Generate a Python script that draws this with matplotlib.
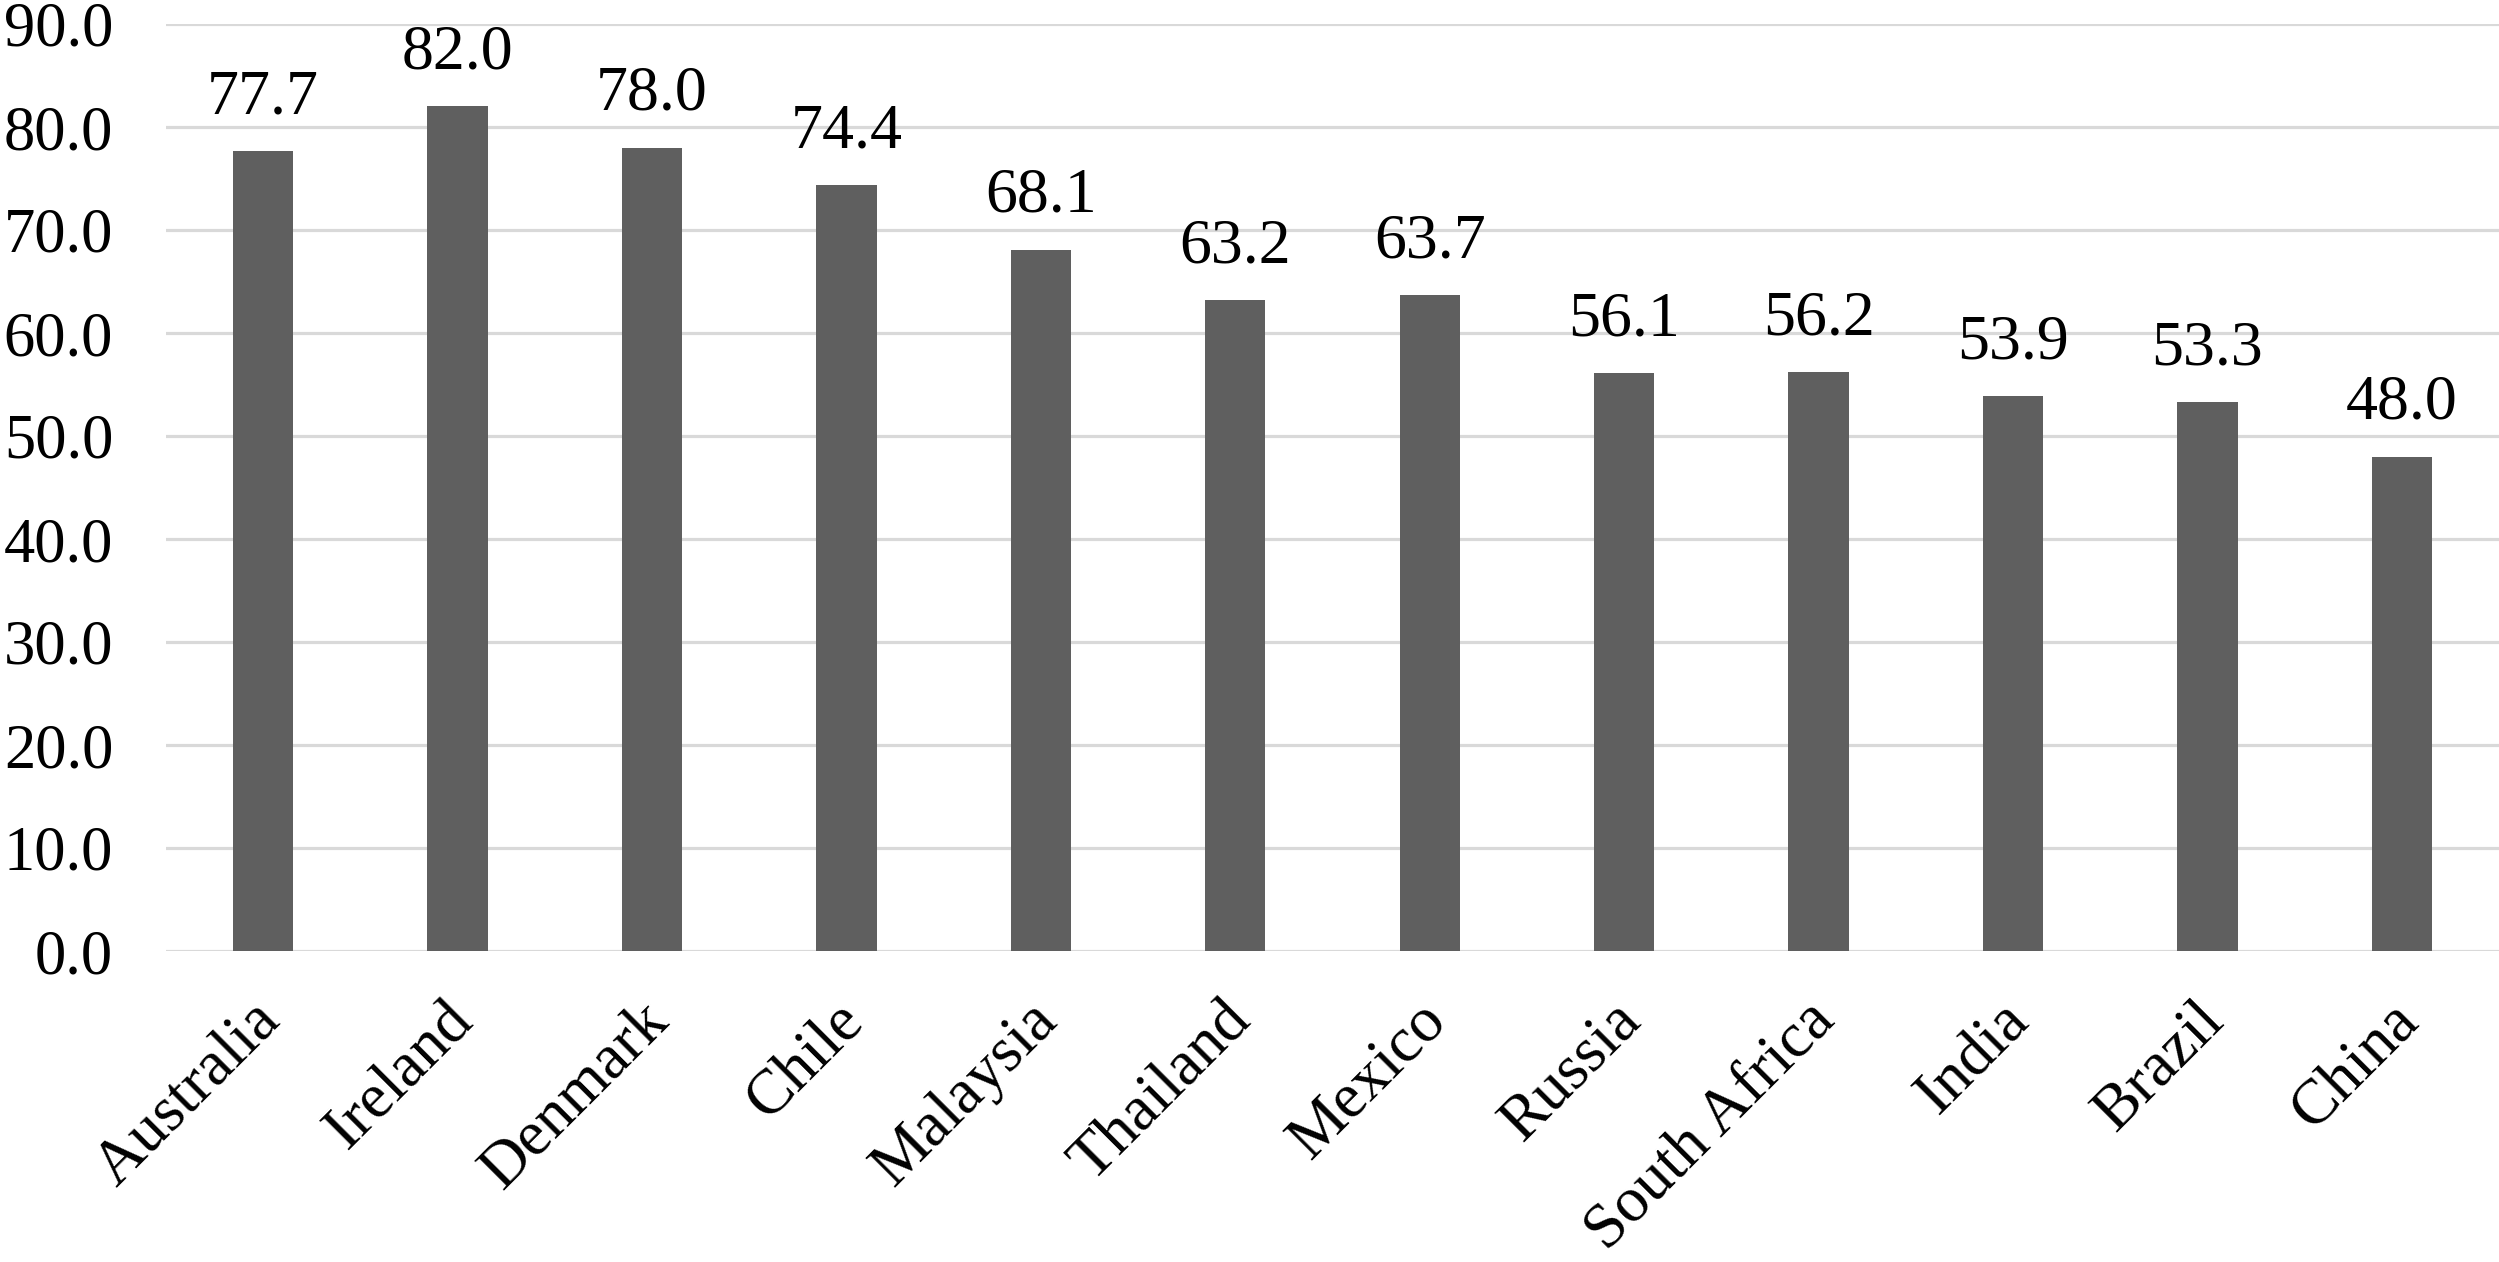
import matplotlib.pyplot as plt
import matplotlib.transforms as mtransforms

countries = ["Australia", "Ireland", "Denmark", "Chile", "Malaysia", "Thailand",
             "Mexico", "Russia", "South Africa", "India", "Brazil", "China"]
scores = [77.7, 82.0, 78.0, 74.4, 68.1, 63.2, 63.7, 56.1, 56.2, 53.9, 53.3, 48.0]
yticks = [0, 10, 20, 30, 40, 50, 60, 70, 80, 90]

plt.rcParams['font.family'] = ['Liberation Serif', 'DejaVu Serif']

fig = plt.figure(figsize=(24.99, 12.62), dpi=100)
ax = fig.add_axes([166 / 2499, 1 - 951 / 1262, 1 - 166 / 2499, (951 - 24) / 1262])

x = list(range(len(countries)))
ax.bar(x, scores, width=0.31, color="#5f5f5f", zorder=3)

for xi, v in zip(x, scores):
    ax.annotate(f"{v:.1f}", (xi, v), xytext=(0, 17), textcoords="offset points",
                ha="center", va="bottom", fontsize=46)

ax.set_xlim(-0.5, len(countries) - 0.5)
ax.set_ylim(0, 90)
ax.set_yticks(yticks)
ax.set_yticklabels([f"{t:.1f}" for t in yticks], fontsize=45)
ax.set_xticks(x)
ax.set_xticklabels(countries, fontsize=46, rotation=45, ha="right",
                   rotation_mode="anchor")
ax.tick_params(axis="both", length=0)
ax.tick_params(axis="y", pad=38)
ax.tick_params(axis="x", pad=29)

# nudge the rotated labels a bit left, like the original
shift = mtransforms.ScaledTranslation(-13 / 100, 0, fig.dpi_scale_trans)
for lbl in ax.get_xticklabels():
    lbl.set_transform(lbl.get_transform() + shift)

ax.yaxis.grid(True, color="#d9d9d9", linewidth=2.3, zorder=0)
ax.set_axisbelow(True)
for s in ax.spines.values():
    s.set_visible(False)

fig.savefig("out.png", dpi=100)
